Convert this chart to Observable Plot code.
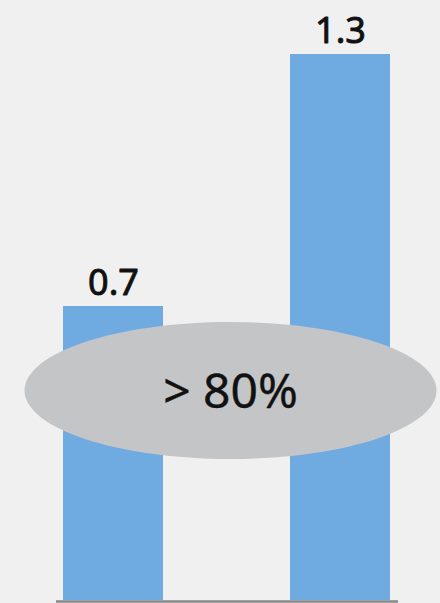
<!DOCTYPE html>
<html><head><meta charset="utf-8">
<script src="https://cdn.jsdelivr.net/npm/d3@7"></script>
<script src="https://cdn.jsdelivr.net/npm/@observablehq/plot@0.6"></script>
<style>html,body{margin:0;padding:0;background:#f0f0f0;} #chart svg{display:block}</style>
</head><body><div id="chart"></div>
<script>
const categories = ["A", "B"];
const values = [0.7, 1.3];
const valueLabels = ["0.7", "1.3"];
const noteText = ["> 80%"];
const noteLevel = [0.5];

const bars = categories.map((c, i) => ({category: c, value: values[i], label: valueLabels[i]}));
const note = noteText.map((t, i) => ({text: t, y: noteLevel[i]}));

// custom ellipse symbol (width : height ≈ 3 : 1)
const ellipse = {
  draw(context, size) {
    const rx = Math.sqrt(size / Math.PI);
    const ry = rx * 0.3325;
    const k = 0.5522847498;
    context.moveTo(rx, 0);
    context.bezierCurveTo(rx, ry * k, rx * k, ry, 0, ry);
    context.bezierCurveTo(-rx * k, ry, -rx, ry * k, -rx, 0);
    context.bezierCurveTo(-rx, -ry * k, -rx * k, -ry, 0, -ry);
    context.bezierCurveTo(rx * k, -ry, rx, -ry * k, rx, 0);
    context.closePath();
  }
};

const chart = Plot.plot({
  width: 440,
  height: 603,
  marginTop: 0,
  marginBottom: 3,
  marginLeft: 56,
  marginRight: 42,
  style: {background: "#f0f0f0", fontFamily: "'Noto Sans', sans-serif"},
  x: {domain: categories, range: [63, 390], paddingInner: 0.5595, paddingOuter: 0, axis: null},
  y: {domain: [0, 1.3], range: [600, 54], axis: null},
  marks: [
    Plot.barY(bars, {x: "category", y: "value", fill: "#6fabe1"}),
    Plot.ruleY([0], {stroke: "#888888", strokeWidth: 2.5, dy: 1}),
    Plot.text(bars, {x: "category", y: "value", text: "label", lineAnchor: "bottom", dy: -12, fontSize: 36, fill: "#111111", stroke: "#111111", strokeWidth: 0.9}),
    Plot.dot(note, {y: "y", frameAnchor: "middle", dx: 3, r: 206, symbol: ellipse, fill: "#c4c5c7"}),
    Plot.text(note, {y: "y", frameAnchor: "middle", dx: 3, dy: 2, text: "text", fontSize: 48, fill: "#111111", stroke: "#111111", strokeWidth: 0.4})
  ]
});
document.getElementById("chart").append(chart);
</script>
</body></html>
